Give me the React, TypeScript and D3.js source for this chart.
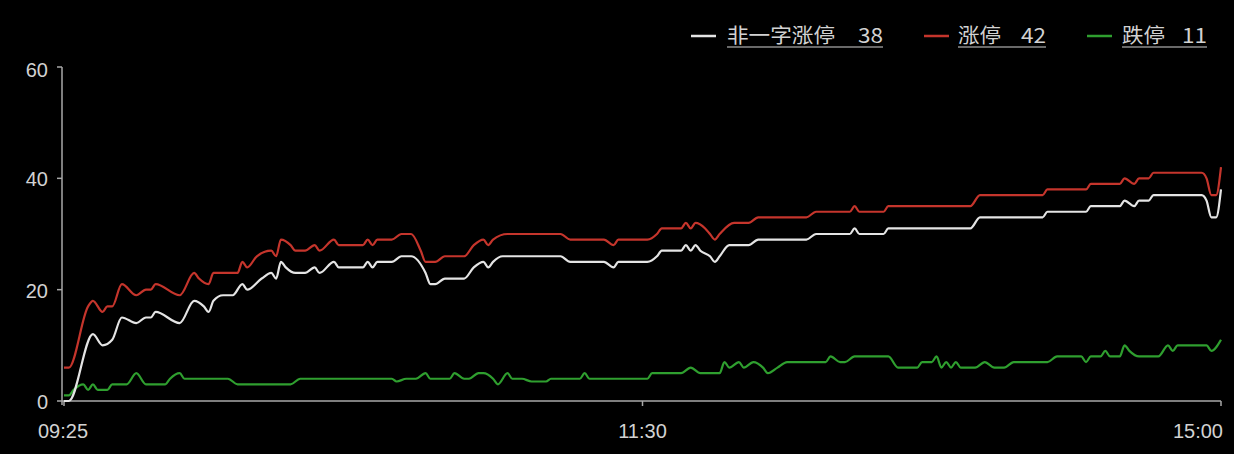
import React, { useEffect, useRef } from 'react';
import * as d3 from 'd3';

// minute index since 09:25 (0) .. 15:00 (240), lunch break removed
const tickMinutes = [0, 120, 240];
const tickLabels = ['09:25', '11:30', '15:00'];
const yTicks = [0, 20, 40, 60];

// 非一字涨停
const nonOneWordLimitUp: [number, number][] = [
  [0, 0], [1, 0], [6, 12], [8, 10], [10, 11], [12, 15], [15, 14], [17, 15], [18, 15], [19, 16],
  [24, 14], [27, 18], [29, 17], [30, 16], [31, 18], [33, 19], [35, 19], [37, 21], [38, 20], [41, 22],
  [43, 23], [44, 22], [45, 25], [46, 24], [48, 23], [50, 23], [52, 24], [53, 23], [56, 25], [57, 24],
  [62, 24], [63, 25], [64, 24], [65, 25], [68, 25], [70, 26], [72, 26], [75, 23], [76, 21], [77, 21],
  [79, 22], [83, 22], [85, 24], [87, 25], [88, 24], [89, 25], [91, 26], [103, 26], [105, 25], [112, 25],
  [114, 24], [115, 25], [121, 25], [123, 26], [124, 27], [128, 27], [129, 28], [130, 27], [131, 28],
  [132, 27], [134, 26], [135, 25], [136, 26], [138, 28], [142, 28], [144, 29], [154, 29], [156, 30],
  [163, 30], [164, 31], [165, 30], [170, 30], [171, 31], [188, 31], [190, 33], [203, 33], [204, 34],
  [212, 34], [213, 35], [219, 35], [220, 36], [222, 35], [223, 36], [225, 36], [226, 37], [236, 37],
  [237, 36], [238, 33], [239, 33], [240, 38],
];

// 涨停
const limitUp: [number, number][] = [
  [0, 6], [1, 6], [5, 17], [6, 18], [8, 16], [9, 17], [10, 17], [12, 21], [15, 19], [17, 20], [18, 20],
  [19, 21], [24, 19], [27, 23], [28, 22], [30, 21], [31, 23], [36, 23], [37, 25], [38, 24], [40, 26],
  [43, 27], [44, 26], [45, 29], [47, 28], [48, 27], [50, 27], [52, 28], [53, 27], [56, 29], [57, 28],
  [62, 28], [63, 29], [64, 28], [65, 29], [68, 29], [70, 30], [72, 30], [74, 27], [75, 25], [77, 25],
  [79, 26], [83, 26], [85, 28], [87, 29], [88, 28], [89, 29], [92, 30], [103, 30], [105, 29], [112, 29],
  [114, 28], [115, 29], [121, 29], [123, 30], [124, 31], [128, 31], [129, 32], [130, 31], [131, 32],
  [133, 31], [134, 30], [135, 29], [136, 30], [139, 32], [142, 32], [144, 33], [154, 33], [156, 34],
  [163, 34], [164, 35], [165, 34], [170, 34], [171, 35], [188, 35], [190, 37], [203, 37], [204, 38],
  [212, 38], [213, 39], [219, 39], [220, 40], [222, 39], [223, 40], [225, 40], [226, 41], [236, 41],
  [237, 40], [238, 37], [239, 37], [240, 42],
];

// 跌停
const limitDown: [number, number][] = [
  [0, 1], [1, 1], [2, 2], [4, 3], [5, 2], [6, 3], [7, 2], [9, 2], [10, 3], [13, 3], [15, 5], [17, 3],
  [21, 3], [22, 4], [24, 5], [25, 4], [34, 4], [36, 3], [47, 3], [49, 4], [64, 4], [68, 4], [69, 3.5],
  [71, 4], [73, 4], [75, 5], [76, 4], [80, 4], [81, 5], [83, 4], [84, 4], [86, 5], [87, 5], [89, 4],
  [90, 3], [92, 5], [93, 4], [95, 4], [97, 3.5], [100, 3.5], [101, 4], [107, 4], [108, 5], [109, 4],
  [121, 4], [122, 5], [128, 5], [130, 6], [132, 5], [136, 5], [137, 7], [138, 6], [140, 7], [141, 6],
  [143, 7], [145, 6], [146, 5], [148, 6], [150, 7], [158, 7], [159, 8], [161, 7], [162, 7], [164, 8],
  [171, 8], [173, 6], [177, 6], [178, 7], [180, 7], [181, 8], [182, 6], [183, 7], [184, 6], [185, 7],
  [186, 6], [189, 6], [191, 7], [193, 6], [195, 6], [197, 7], [204, 7], [206, 8], [211, 8], [212, 7],
  [213, 8], [215, 8], [216, 9], [217, 8], [219, 8], [220, 10], [221, 9], [223, 8], [227, 8], [229, 10],
  [230, 9], [231, 10], [237, 10], [238, 9], [240, 11],
];

const series = [
  { name: '非一字涨停', last: 38, color: '#e4e4e4', data: nonOneWordLimitUp },
  { name: '涨停', last: 42, color: '#c5352c', data: limitUp },
  { name: '跌停', last: 11, color: '#2f9f2f', data: limitDown },
];

const W = 1234;
const H = 454;

const App: React.FC = () => {
  const svgRef = useRef<SVGSVGElement>(null);

  useEffect(() => {
    if (!svgRef.current) return;
    document.body.style.margin = '0';
    const svg = d3.select(svgRef.current);
    svg.selectAll('*').remove();

    const x = d3.scaleLinear().domain([0, 240]).range([64, 1221]);
    const y = d3.scaleLinear().domain([0, 60]).range([401, 67]);
    const axisColor = '#a8a8a8';
    const textColor = '#d2d2d2';
    const font = '"Liberation Sans", Arial, sans-serif';

    svg.append('rect').attr('width', W).attr('height', H).attr('fill', '#000');

    // y axis
    const yAxis = svg.append('g');
    yAxis.append('line')
      .attr('x1', 62).attr('x2', 62)
      .attr('y1', y(60)).attr('y2', y(0) + 4)
      .attr('stroke', axisColor).attr('stroke-width', 1.5);
    yTicks.forEach(t => {
      yAxis.append('line')
        .attr('x1', 57).attr('x2', 62)
        .attr('y1', y(t)).attr('y2', y(t))
        .attr('stroke', axisColor).attr('stroke-width', 1.5);
      yAxis.append('text')
        .attr('x', 48)
        .attr('y', y(t) + (t === 60 ? 10 : 8))
        .attr('text-anchor', 'end')
        .attr('fill', textColor)
        .style('font-family', font)
        .style('font-size', '20px')
        .text(t);
    });

    // x axis
    const xAxis = svg.append('g');
    xAxis.append('line')
      .attr('x1', 62).attr('x2', x(240))
      .attr('y1', y(0)).attr('y2', y(0))
      .attr('stroke', axisColor).attr('stroke-width', 1.5);
    tickMinutes.forEach((m, i) => {
      xAxis.append('line')
        .attr('x1', x(m)).attr('x2', x(m))
        .attr('y1', y(0)).attr('y2', y(0) + 5)
        .attr('stroke', axisColor).attr('stroke-width', 1.5);
      xAxis.append('text')
        .attr('x', i === 0 ? 38 : i === 2 ? 1223 : x(m))
        .attr('y', 438)
        .attr('text-anchor', i === 0 ? 'start' : i === 2 ? 'end' : 'middle')
        .attr('fill', textColor)
        .style('font-family', font)
        .style('font-size', '20px')
        .text(tickLabels[i]);
    });

    const line = d3.line<[number, number]>()
      .x(d => x(d[0]))
      .y(d => y(d[1]))
      .curve(d3.curveMonotoneX);

    // draw green first, white on top
    [series[2], series[1], series[0]].forEach(s => {
      svg.append('path')
        .attr('d', line(s.data) as string)
        .attr('fill', 'none')
        .attr('stroke', s.color)
        .attr('stroke-width', 2.2)
        .attr('stroke-linejoin', 'round');
    });

    // legend: swatch, name, count, underline
    const legendPos = [
      { sx: 691, tx: 727, nameLen: 108, nx: 858, end: 883 },
      { sx: 924, tx: 958, nameLen: 43, nx: 1021, end: 1046 },
      { sx: 1087, tx: 1122, nameLen: 43, nx: 1182, end: 1207 },
    ];
    const legendFont = '"Noto Sans CJK SC", sans-serif';
    series.forEach((s, i) => {
      const p = legendPos[i];
      svg.append('line')
        .attr('x1', p.sx).attr('x2', p.sx + 25)
        .attr('y1', 36).attr('y2', 36)
        .attr('stroke', s.color).attr('stroke-width', 2.5);
      svg.append('text')
        .attr('x', p.tx)
        .attr('y', 43)
        .attr('fill', textColor)
        .attr('textLength', p.nameLen)
        .attr('lengthAdjust', 'spacingAndGlyphs')
        .style('font-family', legendFont)
        .style('font-size', '20px')
        .text(s.name);
      svg.append('text')
        .attr('x', p.nx)
        .attr('y', 43)
        .attr('fill', textColor)
        .attr('textLength', p.end - p.nx)
        .attr('lengthAdjust', 'spacingAndGlyphs')
        .style('font-family', legendFont)
        .style('font-size', '20px')
        .text(s.last);
      svg.append('line')
        .attr('x1', p.tx).attr('x2', p.end)
        .attr('y1', 47).attr('y2', 47)
        .attr('stroke', textColor).attr('stroke-width', 1.2);
    });
  }, []);

  return (
    <div style={{ position: 'fixed', left: 0, top: 0, width: W, height: H, background: '#000' }}>
      <svg ref={svgRef} width={W} height={H} style={{ display: 'block' }} />
    </div>
  );
};

export default App;
